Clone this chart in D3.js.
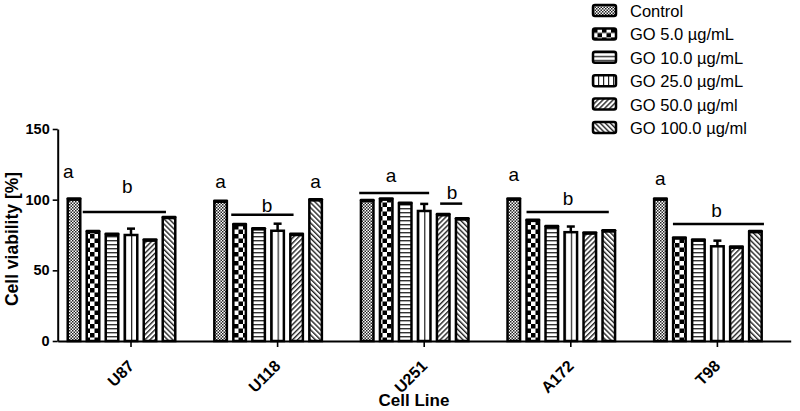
<!DOCTYPE html>
<html lang="en">
<head>
<meta charset="UTF-8">
<script src="https://d3js.org/d3.v7.min.js"></script>
<title>Cell viability</title>
<style>
  body { margin: 0; background: #fff; }
  text { font-family: "Liberation Sans", Arial, sans-serif; }
</style>
</head>
<body>
<div id="chart"></div>
<script>
// data
var cellLines = ["U87", "U118", "U251", "A172", "T98"];
var treatments = ["Control", "GO 5.0 µg/mL", "GO 10.0 µg/mL", "GO 25.0 µg/mL", "GO 50.0 µg/ml", "GO 100.0 µg/ml"];
var meanU87  = [100, 77, 75, 75, 71, 87];
var meanU118 = [98.5, 82, 79, 78, 75, 99.5];
var meanU251 = [99, 100, 97, 92, 89, 86];
var meanA172 = [100, 85, 80.5, 77, 76, 77.5];
var meanT98  = [100, 72.5, 71, 67, 66, 77];
var errU87  = [0.8, 0.8, 0.8, 4.5, 0.8, 0.8];
var errU118 = [0.8, 0.8, 0.8, 5, 0.8, 0.8];
var errU251 = [0.8, 0.8, 0.8, 5, 0.8, 0.8];
var errA172 = [0.8, 0.8, 0.8, 4, 0.8, 0.8];
var errT98  = [0.8, 0.8, 0.8, 4, 0.8, 0.8];
var yTicks = [0, 50, 100, 150];

// significance letters: cell line, letter, bar slot, height (value units)
var sigLetters = [
  ["U87", "a", -0.3, 115.5], ["U87", "b", 2.8, 105],
  ["U118", "a", 0, 108.5], ["U118", "b", 2.45, 91.5], ["U118", "a", 5, 108.5],
  ["U251", "a", 1.25, 112.5], ["U251", "b", 4.47, 100.5],
  ["A172", "a", 0, 113.5], ["A172", "b", 2.85, 96],
  ["T98", "a", 0, 110.5], ["T98", "b", 2.95, 87.5]
];
// significance bars: cell line, from slot, to slot, height
var sigLines = [
  ["U87", 0.46, 4.84, 91.3],
  ["U118", 0.56, 3.84, 89.4],
  ["U251", -0.42, 3.26, 104.7], ["U251", 3.84, 5.0, 97.2],
  ["A172", 0.67, 5.0, 91.3],
  ["T98", 0.66, 5.45, 82.8]
];

var means = [meanU87, meanU118, meanU251, meanA172, meanT98];
var errs = [errU87, errU118, errU251, errA172, errT98];
var rows = [];
cellLines.forEach(function(c, gi) {
  treatments.forEach(function(t, ti) {
    rows.push({ line: c, slot: ti, value: means[gi][ti], err: errs[gi][ti] });
  });
});

var W = 800, H = 411;
var svg = d3.select("#chart").append("svg")
  .attr("width", W).attr("height", H);

// patterns
var defs = svg.append("defs");
function pattern(id, w, h, tr) {
  var p = defs.append("pattern").attr("id", id)
    .attr("patternUnits", "userSpaceOnUse")
    .attr("width", w).attr("height", h);
  if (tr) p.attr("patternTransform", tr);
  p.append("rect").attr("width", w).attr("height", h).attr("fill", "#fff");
  return p;
}
var p0 = pattern("p0", 3, 3);
p0.append("rect").attr("width", 1.5).attr("height", 1.5).attr("fill", "#222");
p0.append("rect").attr("x", 1.5).attr("y", 1.5).attr("width", 1.5).attr("height", 1.5).attr("fill", "#222");
var p1 = pattern("p1", 9, 9);
p1.append("rect").attr("width", 4.5).attr("height", 4.5).attr("fill", "#000");
p1.append("rect").attr("x", 4.5).attr("y", 4.5).attr("width", 4.5).attr("height", 4.5).attr("fill", "#000");
var p2 = pattern("p2", 4, 4);
p2.append("rect").attr("width", 4).attr("height", 1.4).attr("fill", "#333");
var p3 = pattern("p3", 5, 5);
p3.append("rect").attr("width", 1.2).attr("height", 5).attr("fill", "#222");
var p4 = pattern("p4", 3.6, 3.6, "rotate(45)");
p4.append("rect").attr("width", 1.4).attr("height", 3.6).attr("fill", "#222");
var p5 = pattern("p5", 3.6, 3.6, "rotate(-45)");
p5.append("rect").attr("width", 1.4).attr("height", 3.6).attr("fill", "#222");
// bar version of vertical stripes: one line through the middle
var p3b = defs.append("pattern").attr("id", "p3b")
  .attr("patternUnits", "objectBoundingBox").attr("width", 0.5).attr("height", 1);
p3b.append("rect").attr("width", 50).attr("height", 1000).attr("fill", "#fff");
p3b.append("rect").attr("width", 1.2).attr("height", 1000).attr("fill", "#222");
var barFill = ["url(#p0)", "url(#p1)", "url(#p2)", "url(#p3b)", "url(#p4)", "url(#p5)"];
var legFill = ["url(#p0)", "url(#p1)", "url(#p2)", "url(#p3)", "url(#p4)", "url(#p5)"];

// scales
var x0 = d3.scaleBand().domain(cellLines).range([57.7, 790.7]);
var slots = d3.range(7);
var x1 = d3.scaleBand().domain(slots).range([-66.5, 66.5]).paddingInner(0.34).paddingOuter(0.17);
var y = d3.scaleLinear().domain([0, 150]).range([341, 129]);

function slotX(line, s) {
  // centre of a (possibly fractional) slot
  var step = x1.step();
  return x0(line) + x0.bandwidth() / 2 + x1(0) + x1.bandwidth() / 2 + s * step;
}

// bars
var bw = x1.bandwidth();
svg.append("g").selectAll("rect")
  .data(rows).enter().append("rect")
  .attr("x", function(d) { return slotX(d.line, d.slot) - bw / 2; })
  .attr("y", function(d) { return y(d.value); })
  .attr("width", bw)
  .attr("height", function(d) { return y(0) - y(d.value); })
  .attr("fill", function(d) { return barFill[d.slot]; })
  .attr("stroke", "#000")
  .attr("stroke-width", 2.5);

// error bars
var eb = svg.append("g").attr("stroke", "#000").attr("stroke-width", 2.5);
eb.selectAll("line.v").data(rows).enter().append("line").attr("class", "v")
  .attr("x1", function(d) { return slotX(d.line, d.slot); })
  .attr("x2", function(d) { return slotX(d.line, d.slot); })
  .attr("y1", function(d) { return y(d.value); })
  .attr("y2", function(d) { return y(d.value + d.err); });
eb.selectAll("line.c").data(rows).enter().append("line").attr("class", "c")
  .attr("x1", function(d) { return slotX(d.line, d.slot) - (d.err > 2 ? 4 : bw / 2); })
  .attr("x2", function(d) { return slotX(d.line, d.slot) + (d.err > 2 ? 4 : bw / 2); })
  .attr("y1", function(d) { return y(d.value + d.err); })
  .attr("y2", function(d) { return y(d.value + d.err); })
  .attr("stroke-linecap", function(d) { return d.err > 2 ? "butt" : "round"; });

// axes
var yAxis = svg.append("g").attr("transform", "translate(57.7,0)")
  .call(d3.axisLeft(y).tickValues(yTicks).tickSize(5).tickSizeOuter(0));
var xAxis = svg.append("g").attr("transform", "translate(0," + y(0) + ")")
  .call(d3.axisBottom(x0).tickSize(6).tickSizeOuter(0));
[yAxis, xAxis].forEach(function(a) {
  a.select(".domain").attr("stroke", "#000").attr("stroke-width", 2);
  a.selectAll(".tick line").attr("stroke", "#000").attr("stroke-width", 1.6);
  a.selectAll("text").attr("fill", "#000").style("font-weight", "bold")
    .style("font-family", "'Liberation Sans', Arial, sans-serif");
});
yAxis.selectAll("text").attr("x", -8).style("font-size", "14.5px");
xAxis.selectAll("text")
  .style("font-size", "16px")
  .attr("text-anchor", "end")
  .attr("x", 0).attr("y", 0).attr("dx", 0).attr("dy", 0)
  .attr("transform", "translate(4,26) rotate(-45)");

// titles
svg.append("text")
  .attr("transform", "translate(18,239) rotate(-90)")
  .attr("text-anchor", "middle")
  .style("font-size", "17.5px").style("font-weight", "bold")
  .text("Cell viability [%]");
svg.append("text")
  .attr("x", 414).attr("y", 406)
  .attr("text-anchor", "middle")
  .style("font-size", "17px").style("font-weight", "bold")
  .text("Cell Line");

// significance
svg.append("g").selectAll("line").data(sigLines).enter().append("line")
  .attr("x1", function(d) { return slotX(d[0], d[1]); })
  .attr("x2", function(d) { return slotX(d[0], d[2]); })
  .attr("y1", function(d) { return y(d[3]); })
  .attr("y2", function(d) { return y(d[3]); })
  .attr("stroke", "#000").attr("stroke-width", 2.5);
svg.append("g").selectAll("text").data(sigLetters).enter().append("text")
  .attr("x", function(d) { return slotX(d[0], d[2]); })
  .attr("y", function(d) { return y(d[3]); })
  .attr("text-anchor", "middle")
  .style("font-size", "19px")
  .text(function(d) { return d[1]; });

// legend
var leg = svg.append("g").attr("transform", "translate(593,5)");
var li = leg.selectAll("g").data(treatments).enter().append("g")
  .attr("transform", function(d, i) { return "translate(0," + i * 23.4 + ")"; });
li.append("rect")
  .attr("width", 23).attr("height", 11).attr("rx", 2)
  .attr("fill", function(d, i) { return legFill[i]; })
  .attr("stroke", "#000").attr("stroke-width", 2.5);
li.append("text")
  .attr("x", 37).attr("y", 12)
  .style("font-size", "16.5px")
  .text(function(d) { return d; });
</script>
</body>
</html>
